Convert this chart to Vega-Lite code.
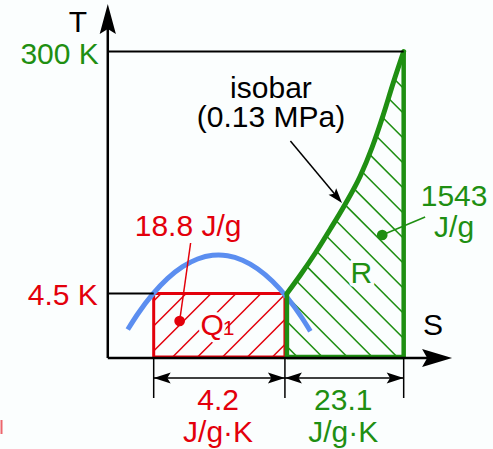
{
  "$schema": "https://vega.github.io/schema/vega-lite/v6.json",
  "width": 493,
  "height": 449,
  "autosize": {"type": "fit", "contains": "padding"},
  "padding": 0,
  "background": "#fbfefe",
  "config": {"view": {"stroke": null}, "text": {"font": "Liberation Sans"}},
  "datasets": {
    "coldHatch": [
      {"s": 4.6, "t": 5.6, "s2": 5.35, "t2": 6.35},
      {"s": 4.6, "t": 3.1, "s2": 7.85, "t2": 6.35},
      {"s": 4.6, "t": 0.6, "s2": 10.35, "t2": 6.35},
      {"s": 6.5, "t": 0, "s2": 12.85, "t2": 6.35},
      {"s": 9.0, "t": 0, "s2": 15.35, "t2": 6.35},
      {"s": 11.5, "t": 0, "s2": 17.75, "t2": 6.25},
      {"s": 14.0, "t": 0, "s2": 17.75, "t2": 3.75},
      {"s": 16.5, "t": 0, "s2": 17.75, "t2": 1.25}
    ],
    "warmHatch": [
      {"s": 17.95, "t": 1.05, "s2": 19.0, "t2": 0},
      {"s": 17.95, "t": 3.55, "s2": 21.5, "t2": 0},
      {"s": 17.95, "t": 6.05, "s2": 24.0, "t2": 0},
      {"s": 18.88, "t": 7.62, "s2": 26.5, "t2": 0},
      {"s": 19.91, "t": 9.09, "s2": 29.0, "t2": 0},
      {"s": 20.92, "t": 10.58, "s2": 29.65, "t2": 1.85},
      {"s": 21.88, "t": 12.12, "s2": 29.65, "t2": 4.35},
      {"s": 22.83, "t": 13.67, "s2": 29.65, "t2": 6.85},
      {"s": 23.76, "t": 15.24, "s2": 29.65, "t2": 9.35},
      {"s": 24.64, "t": 16.86, "s2": 29.65, "t2": 11.85},
      {"s": 25.48, "t": 18.52, "s2": 29.65, "t2": 14.35},
      {"s": 26.21, "t": 20.29, "s2": 29.65, "t2": 16.85},
      {"s": 26.88, "t": 22.12, "s2": 29.65, "t2": 19.35},
      {"s": 27.52, "t": 23.98, "s2": 29.65, "t2": 21.85},
      {"s": 28.12, "t": 25.88, "s2": 29.65, "t2": 24.35},
      {"s": 28.72, "t": 27.78, "s2": 29.65, "t2": 26.85},
      {"s": 29.35, "t": 29.65, "s2": 29.65, "t2": 29.35}
    ],
    "heatBox": [{"s": 4.6, "s2": 17.75, "t": 0, "t2": 6.35}],
    "dome": [
      {"s": 2.0, "t": 2.75}, {"s": 3.0, "t": 4.3}, {"s": 4.5, "t": 6.28},
      {"s": 6.0, "t": 7.86}, {"s": 7.5, "t": 9.03}, {"s": 9.0, "t": 9.8},
      {"s": 10.5, "t": 10.17}, {"s": 11.1, "t": 10.2}, {"s": 12.0, "t": 10.13},
      {"s": 13.5, "t": 9.68}, {"s": 15.0, "t": 8.83}, {"s": 16.5, "t": 7.58},
      {"s": 18.0, "t": 5.92}, {"s": 19.5, "t": 3.85}, {"s": 20.3, "t": 2.58}
    ],
    "isobar": [
      {"s": 17.95, "t": 6.35}, {"s": 19.3, "t": 8.2}, {"s": 20.8, "t": 10.4},
      {"s": 22.3, "t": 12.8}, {"s": 23.8, "t": 15.3}, {"s": 25.3, "t": 18.1},
      {"s": 26.5, "t": 21.0}, {"s": 27.6, "t": 24.2}, {"s": 28.6, "t": 27.4},
      {"s": 29.65, "t": 30.55}
    ],
    "warmEdges": [
      {"s": 29.65, "t": 0, "s2": 29.65, "t2": 30.55},
      {"s": 17.95, "t": 0, "s2": 29.65, "t2": 0},
      {"s": 17.95, "t": 0, "s2": 17.95, "t2": 6.35}
    ],
    "guides": [
      {"s": 0, "t": 30.55, "s2": 29.65, "t2": 30.55},
      {"s": 0, "t": 6.35, "s2": 4.6, "t2": 6.35}
    ],
    "axes": [
      {"s": 0, "t": -0.1, "s2": 0, "t2": 33.0},
      {"s": 0, "t": -0.1, "s2": 32.5, "t2": -0.1}
    ],
    "dimensions": [
      {"s": 4.6, "t": -2.1, "s2": 17.75, "t2": -2.1},
      {"s": 17.75, "t": -2.1, "s2": 29.65, "t2": -2.1},
      {"s": 4.6, "t": 0, "s2": 4.6, "t2": -4.1},
      {"s": 17.75, "t": 0, "s2": 17.75, "t2": -4.1},
      {"s": 29.65, "t": 0, "s2": 29.65, "t2": -4.1}
    ],
    "coldLeader": [{"s": 8.3, "t": 11.4, "s2": 7.2, "t2": 3.6}],
    "coldDot": [{"s": 7.2, "t": 3.6}],
    "warmLeader": [{"s": 27.5, "t": 12.2, "s2": 31.8, "t2": 14.0}],
    "warmDot": [{"s": 27.5, "t": 12.2}],
    "isobarLeader": [{"s": 18.3, "t": 21.6, "s2": 22.9, "t2": 16.1}],
    "isobarTip": [{"s": 23.47, "t": 15.4}],
    "tAxisTip": [{"s": 0, "t": 35.3}],
    "sAxisTip": [{"s": 34.5, "t": -0.1}],
    "dimTipsLeft": [{"s": 4.6, "t": -2.1}, {"s": 17.75, "t": -2.1}],
    "dimTipsRight": [{"s": 17.75, "t": -2.1}, {"s": 29.65, "t": -2.1}],
    "edgeMark": [{"s": -10.65, "t": -6.3, "s2": -10.65, "t2": -7.7}],
    "labels": [
      {"label": "T", "s": -3.0, "t": 32.5, "zone": "none"},
      {"label": "S", "s": 32.6, "t": 2.2, "zone": "none"},
      {"label": "isobar", "s": 16.35, "t": 25.9, "zone": "none"},
      {"label": "(0.13 MPa)", "s": 16.35, "t": 23.0, "zone": "none"},
      {"label": "18.8 J/g", "s": 8.05, "t": 12.1, "zone": "cold"},
      {"label": "4.2", "s": 11.05, "t": -5.3, "zone": "cold"},
      {"label": "J/g·K", "s": 11.05, "t": -8.5, "zone": "cold"},
      {"label": "1543", "s": 34.7, "t": 15.1, "zone": "warm"},
      {"label": "J/g", "s": 34.7, "t": 12.0, "zone": "warm"},
      {"label": "23.1", "s": 23.6, "t": -5.3, "zone": "warm"},
      {"label": "J/g·K", "s": 23.6, "t": -8.5, "zone": "warm"}
    ],
    "levels": [
      {"label": "300 K", "s": -0.9, "t": 29.3, "zone": "warm"},
      {"label": "4.5 K", "s": -1.0, "t": 5.2, "zone": "cold"}
    ],
    "regions": [
      {"label": "Q", "s": 10.45, "t": 2.2, "zone": "cold"},
      {"label": "R", "s": 25.4, "t": 7.4, "zone": "warm"}
    ],
    "subscripts": [{"label": "1", "s": 12.1, "t": 2.2, "zone": "cold"}]
  },
  "encoding": {
    "x": {"field": "s", "type": "quantitative", "scale": {"domain": [-10.7, 38.6], "nice": false, "zero": false}, "axis": null},
    "y": {"field": "t", "type": "quantitative", "scale": {"domain": [-9.2, 35.7], "nice": false, "zero": false}, "axis": null}
  },
  "layer": [
    {"data": {"name": "coldHatch"}, "mark": {"type": "rule", "color": "#e3000b", "strokeWidth": 1.5}, "encoding": {"x2": {"field": "s2"}, "y2": {"field": "t2"}}},
    {"data": {"name": "warmHatch"}, "mark": {"type": "rule", "color": "#1f8f12", "strokeWidth": 1.6}, "encoding": {"x2": {"field": "s2"}, "y2": {"field": "t2"}}},
    {"data": {"name": "regions"}, "mark": {"type": "text", "fontSize": 30, "baseline": "alphabetic", "align": "center", "fill": "#fbfefe", "stroke": "#fbfefe", "strokeWidth": 7, "strokeJoin": "round"}, "encoding": {"text": {"field": "label"}}},
    {"data": {"name": "heatBox"}, "mark": {"type": "rect", "fillOpacity": 0, "stroke": "#e3000b", "strokeWidth": 3}, "encoding": {"x2": {"field": "s2"}, "y2": {"field": "t2"}}},
    {"data": {"name": "dome"}, "mark": {"type": "line", "interpolate": "monotone", "color": "#5b8ef0", "strokeWidth": 5}},
    {"data": {"name": "warmEdges"}, "mark": {"type": "rule", "color": "#1f8f12", "strokeWidth": 4.5}, "encoding": {"x2": {"field": "s2"}, "y2": {"field": "t2"}}},
    {"data": {"name": "isobar"}, "mark": {"type": "line", "interpolate": "monotone", "color": "#1f8f12", "strokeWidth": 5, "strokeCap": "round"}},
    {"data": {"name": "guides"}, "mark": {"type": "rule", "color": "#000000", "strokeWidth": 2}, "encoding": {"x2": {"field": "s2"}, "y2": {"field": "t2"}}},
    {"data": {"name": "axes"}, "mark": {"type": "rule", "color": "#000000", "strokeWidth": 2.5}, "encoding": {"x2": {"field": "s2"}, "y2": {"field": "t2"}}},
    {"data": {"name": "dimensions"}, "mark": {"type": "rule", "color": "#000000", "strokeWidth": 1.5}, "encoding": {"x2": {"field": "s2"}, "y2": {"field": "t2"}}},
    {"data": {"name": "coldLeader"}, "mark": {"type": "rule", "color": "#e3000b", "strokeWidth": 1.5}, "encoding": {"x2": {"field": "s2"}, "y2": {"field": "t2"}}},
    {"data": {"name": "coldDot"}, "mark": {"type": "point", "shape": "circle", "filled": true, "opacity": 1, "color": "#e3000b", "size": 115}},
    {"data": {"name": "warmLeader"}, "mark": {"type": "rule", "color": "#1f8f12", "strokeWidth": 1.5}, "encoding": {"x2": {"field": "s2"}, "y2": {"field": "t2"}}},
    {"data": {"name": "warmDot"}, "mark": {"type": "point", "shape": "circle", "filled": true, "opacity": 1, "color": "#1f8f12", "size": 115}},
    {"data": {"name": "isobarLeader"}, "mark": {"type": "rule", "color": "#000000", "strokeWidth": 1.5}, "encoding": {"x2": {"field": "s2"}, "y2": {"field": "t2"}}},
    {"data": {"name": "isobarTip"}, "mark": {"type": "point", "shape": "M0,0 L0.33,1 L0,0.8 L-0.33,1 Z", "filled": true, "opacity": 1, "color": "#000000", "size": 900, "angle": 140}},
    {"data": {"name": "tAxisTip"}, "mark": {"type": "point", "shape": "M0,0 L0.27,1 L0,0.83 L-0.27,1 Z", "filled": true, "opacity": 1, "color": "#000000", "size": 3600, "angle": 0}},
    {"data": {"name": "sAxisTip"}, "mark": {"type": "point", "shape": "M0,0 L0.3,1 L0,0.83 L-0.3,1 Z", "filled": true, "opacity": 1, "color": "#000000", "size": 3600, "angle": 90}},
    {"data": {"name": "dimTipsLeft"}, "mark": {"type": "point", "shape": "M0,0 L0.32,1 L0,0.8 L-0.32,1 Z", "filled": true, "opacity": 1, "color": "#000000", "size": 1156, "angle": 270}},
    {"data": {"name": "dimTipsRight"}, "mark": {"type": "point", "shape": "M0,0 L0.32,1 L0,0.8 L-0.32,1 Z", "filled": true, "opacity": 1, "color": "#000000", "size": 1156, "angle": 90}},
    {"data": {"name": "edgeMark"}, "mark": {"type": "rule", "color": "#e3000b", "strokeWidth": 2, "opacity": 0.6}, "encoding": {"x2": {"field": "s2"}, "y2": {"field": "t2"}}},
    {"data": {"name": "labels"}, "mark": {"type": "text", "fontSize": 30, "baseline": "alphabetic", "align": "center"}, "encoding": {"text": {"field": "label"}, "color": {"field": "zone", "type": "nominal", "scale": {"domain": ["cold", "warm", "none"], "range": ["#e3000b", "#1f8f12", "#000000"]}, "legend": null}}},
    {"data": {"name": "levels"}, "mark": {"type": "text", "fontSize": 30, "baseline": "alphabetic", "align": "right"}, "encoding": {"text": {"field": "label"}, "color": {"field": "zone", "type": "nominal", "scale": {"domain": ["cold", "warm", "none"], "range": ["#e3000b", "#1f8f12", "#000000"]}, "legend": null}}},
    {"data": {"name": "regions"}, "mark": {"type": "text", "fontSize": 30, "baseline": "alphabetic", "align": "center"}, "encoding": {"text": {"field": "label"}, "color": {"field": "zone", "type": "nominal", "scale": {"domain": ["cold", "warm", "none"], "range": ["#e3000b", "#1f8f12", "#000000"]}, "legend": null}}},
    {"data": {"name": "subscripts"}, "mark": {"type": "text", "fontSize": 21, "baseline": "alphabetic", "align": "center"}, "encoding": {"text": {"field": "label"}, "color": {"field": "zone", "type": "nominal", "scale": {"domain": ["cold", "warm", "none"], "range": ["#e3000b", "#1f8f12", "#000000"]}, "legend": null}}}
  ]
}
